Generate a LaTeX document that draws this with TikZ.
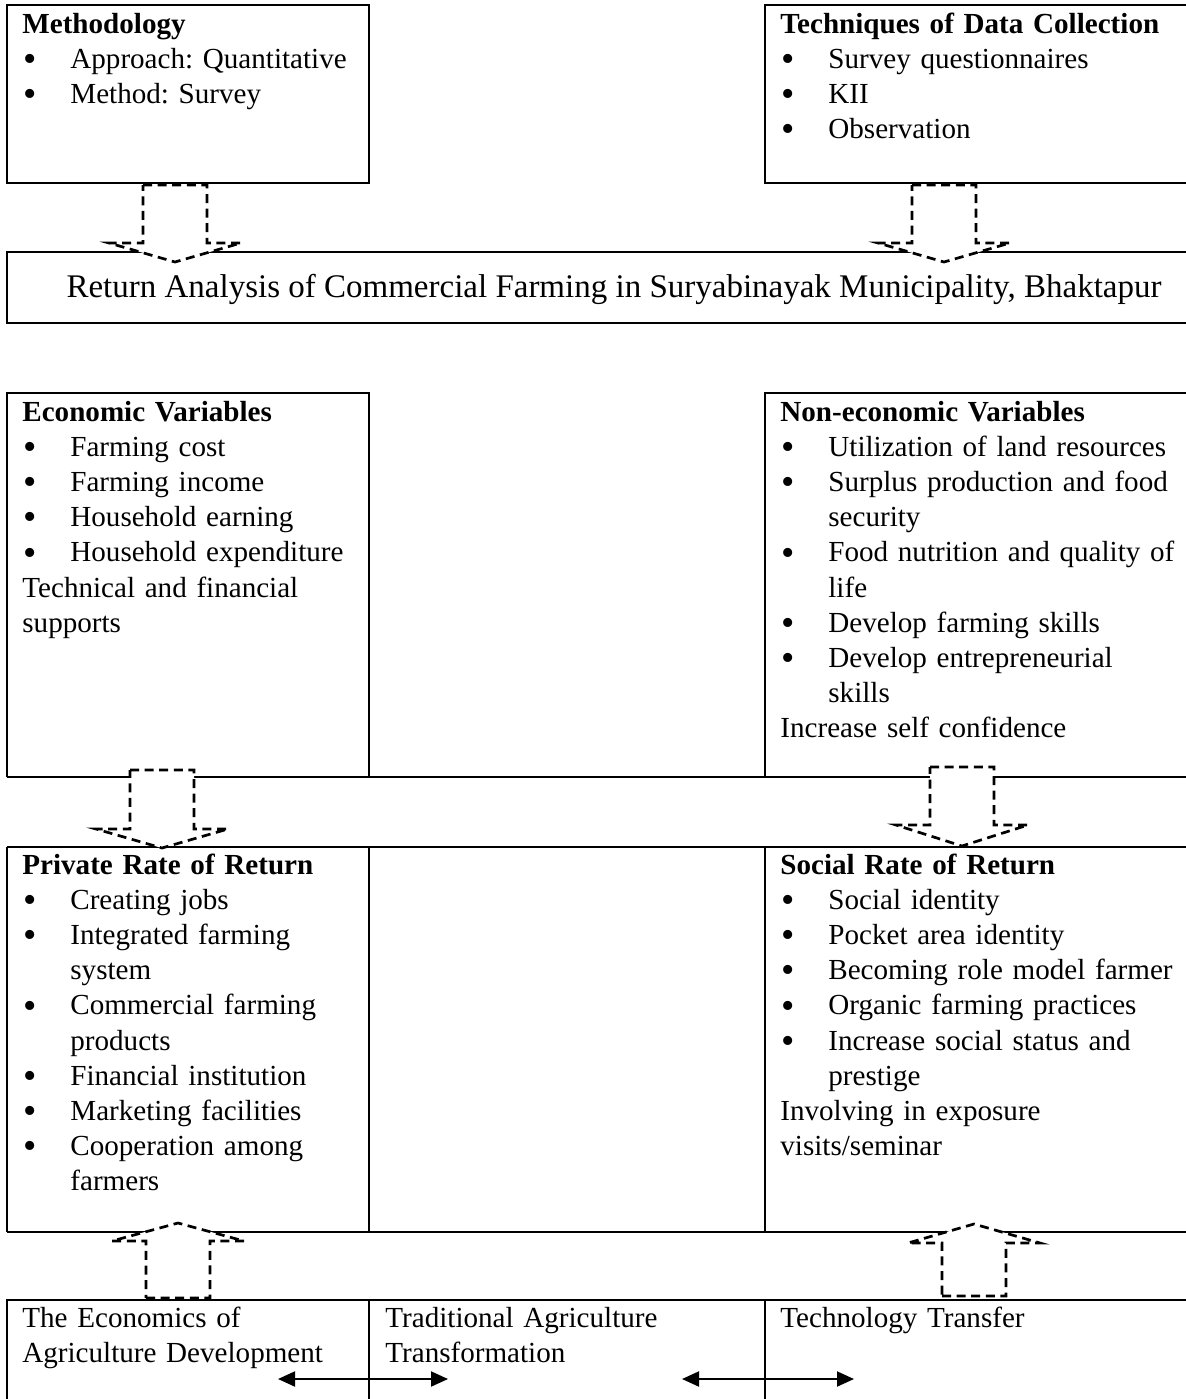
\documentclass[tikz,border=0pt]{standalone}
\usepackage{fontspec}
\setmainfont{Liberation Serif}
\usetikzlibrary{arrows.meta}
\newcommand{\bl}{\makebox[24pt][l]{\hspace{0.5pt}\raisebox{-1.6pt}{\fontsize{19}{19}\selectfont\textbullet}}}
\newcommand{\ind}{\hspace*{24pt}}
\tikzset{
  frame/.style={line width=1pt},
  txt/.style={anchor=base west, inner sep=0pt, text width=230pt, align=left,
     font=\fontsize{14.55}{17.6}\selectfont\frenchspacing},
  dashbox/.style={line width=1.35pt, dash pattern=on 4.5pt off 2.8pt, fill=white},
  dbl/.style={line width=1pt, {Triangle[length=8.5pt,width=7.5pt]}-{Triangle[length=8.5pt,width=7.5pt]}}
}
\newcommand{\blockarrow}[4]{%
  \draw[dashbox] (#1-32,#2) -- (#1+32,#2) -- (#1+32,#3) -- (#1+66,#3) -- (#1,#4) -- (#1-66,#3) -- (#1-32,#3) -- cycle;}
\begin{document}
\begin{tikzpicture}[x=0.5pt,y=-0.5pt]
\useasboundingbox (0,0) rectangle (1186,1399);
% top boxes
\draw[frame] (7,5) rectangle (369,183);
\draw[frame] (765,5) rectangle (1200,183);
\node[txt] (meth) at (22,33) {\textbf{Methodology}\\ \bl Approach: Quantitative\\ \bl Method: Survey};
\node[txt] (tech) at (780,33) {\textbf{Techniques of Data Collection}\\ \bl Survey questionnaires\\ \bl KII\\ \bl Observation};
% return box
\draw[frame] (7,252) rectangle (1200,323);
\node[anchor=base, inner sep=0pt, font=\fontsize{16.5}{20}\selectfont\frenchspacing] (ret) at (614,297) {Return Analysis of Commercial Farming in Suryabinayak Municipality, Bhaktapur};
% table
\draw[frame] (7,777) -- (7,393) -- (369,393) -- (369,777);
\draw[frame] (1200,393) -- (765,393) -- (765,777);
\draw[frame] (7,777) -- (1200,777);
\draw[frame] (7,847) -- (1200,847);
\draw[frame] (7,1232) -- (1200,1232);
\draw[frame] (7,847) -- (7,1232);
\draw[frame] (369,847) -- (369,1232);
\draw[frame] (765,847) -- (765,1232);
\node[txt] (econ) at (22,421) {\textbf{Economic Variables}\\ \bl Farming cost\\ \bl Farming income\\ \bl Household earning\\ \bl Household expenditure\\ Technical and financial\\ supports};
\node[txt] (nonecon) at (780,421) {\textbf{Non-economic Variables}\\ \bl Utilization of land resources\\ \bl Surplus production and food\\ \ind security\\ \bl Food nutrition and quality of\\ \ind life\\ \bl Develop farming skills\\ \bl Develop entrepreneurial\\ \ind skills\\ Increase self confidence};
\node[txt] (priv) at (22,874) {\textbf{Private Rate of Return}\\ \bl Creating jobs\\ \bl Integrated farming\\ \ind system\\ \bl Commercial farming\\ \ind products\\ \bl Financial institution\\ \bl Marketing facilities\\ \bl Cooperation among\\ \ind farmers};
\node[txt] (soc) at (780,874) {\textbf{Social Rate of Return}\\ \bl Social identity\\ \bl Pocket area identity\\ \bl Becoming role model farmer\\ \bl Organic farming practices\\ \bl Increase social status and\\ \ind prestige\\ Involving in exposure\\ visits/seminar};
% bottom row
\draw[frame] (7,1410) -- (7,1300) -- (1200,1300);
\draw[frame] (369,1300) -- (369,1410);
\draw[frame] (765,1300) -- (765,1410);
\node[txt] (econag) at (22,1327) {The Economics of\\ Agriculture Development};
\node[txt] (trad) at (385,1327) {Traditional Agriculture\\ Transformation};
\node[txt] (techtr) at (780,1327) {Technology Transfer};
\coordinate (a1) at (278,1379);
\coordinate (a2) at (448,1379);
\coordinate (b1) at (682,1379);
\coordinate (b2) at (854,1379);
\draw[dbl] (a1) -- (a2);
\draw[dbl] (b1) -- (b2);
% dashed block arrows
\blockarrow{175}{185}{243}{262}
\blockarrow{944}{185}{243}{262}
\blockarrow{162}{770}{829}{848}
\blockarrow{962}{767}{825}{846}
\blockarrow{178}{1298}{1241}{1223}
\blockarrow{974}{1296}{1243}{1224}
\end{tikzpicture}
\end{document}
